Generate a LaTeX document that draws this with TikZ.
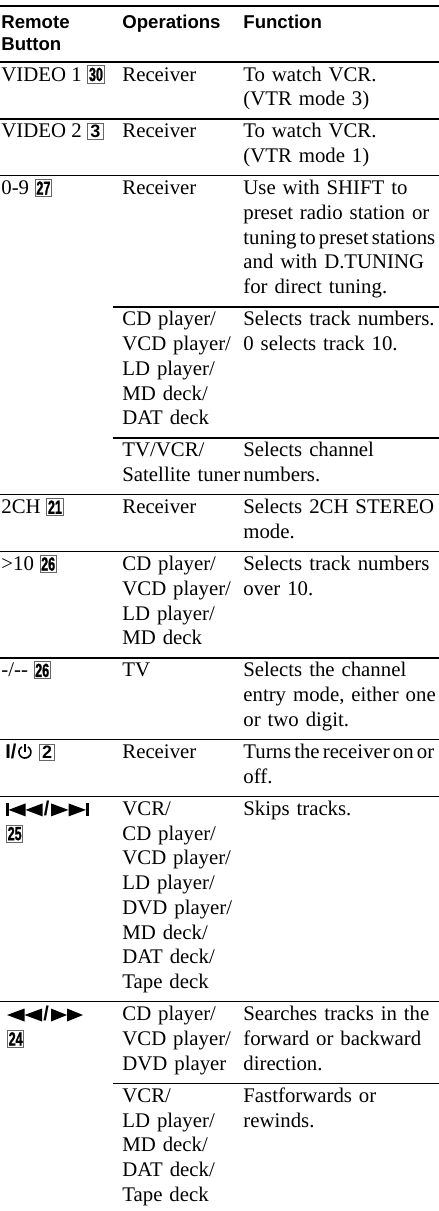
\documentclass[tikz,border=0pt]{standalone}
\usepackage{fontspec}
\usetikzlibrary{positioning}
\setmainfont{Liberation Serif}
\setsansfont{Liberation Sans}
\newfontfamily\numfont[FakeStretch=0.66,FakeBold=1.2]{Liberation Sans}
\newcommand\tight{\spaceskip=0.15em\relax}

\begin{document}
\begin{tikzpicture}[
    x=0.5pt, y=-0.5pt,
    key/.style={
        anchor=base west,
        inner sep=0pt,
        font=\fontsize{10.4pt}{12.375pt}\selectfont
    },
    oper/.style={key, align=left, text width=60pt},
    func/.style={key, align=left, text width=100pt},
    head/.style={key, align=left, text width=58pt, font=\sffamily\bfseries\fontsize{9.3pt}{11pt}\selectfont},
    slash/.style={key, font=\sffamily\bfseries\fontsize{10pt}{11pt}\selectfont},
    numkey/.style={
        draw=black!60,
        line width=0.5pt,
        inner xsep=0.6pt,
        inner ysep=0.9pt,
        anchor=base west,
        font=\numfont\bfseries\fontsize{9.5pt}{9.5pt}\selectfont
    },
    widekey/.style={numkey, inner xsep=1.3pt, font=\sffamily\bfseries\fontsize{9pt}{9pt}\selectfont},
    rule/.style={line width=0.7pt},
    sym/.style={fill=black}
]
\useasboundingbox (0,0) rectangle (439,1211);

\draw[line width=1.2pt] (0,6) -- (439,6);

\node[head] (hbtn) at (1,28) {Remote\\Button};
\node[head] (hop) at (122,28) {Operations};
\node[head] (hfn) at (243,28) {Function};
\draw[rule] (0,62) -- (439,62);

\node[key] (v1) at (1,81) {VIDEO 1};
\node[right=2.6pt of v1.base east, numkey] (v1num) {30};
\node[oper] (v1op) at (122,81) {Receiver};
\node[func] (v1fn) at (243,81) {To watch VCR.\\(VTR mode 3)};
\draw[rule] (0,118.85) -- (439,118.85);

\node[key] (v2) at (1,137.85) {VIDEO 2};
\node[right=2.6pt of v2.base east, widekey] (v2num) {3};
\node[oper] (v2op) at (122,137.85) {Receiver};
\node[func] (v2fn) at (243,137.85) {To watch VCR.\\(VTR mode 1)};
\draw[rule] (0,175.7) -- (439,175.7);

\node[key] (num) at (1,194.7) {0-9};
\node[right=2.6pt of num.base east, numkey] (numnum) {27};
\node[oper] (numop) at (122,194.7) {Receiver};
\node[func] (numfn) at (243,194.7) {Use with SHIFT to\\preset radio station or\\{\tight tuning to preset stations}\\and with D.TUNING\\for direct tuning.};
\draw[rule] (113,306.8) -- (439,306.8);

\node[oper] (numop2) at (122,325.8) {CD player/\\VCD player/\\LD player/\\MD deck/\\DAT deck};
\node[func] (numfn2) at (243,325.8) {Selects track numbers.\\0 selects track 10.};
\draw[rule] (113,437.9) -- (439,437.9);

\node[oper] (numop3) at (122,456.9) {TV/VCR/\\Satellite tuner};
\node[func] (numfn3) at (243,456.9) {Selects channel\\numbers.};
\draw[rule] (0,494.75) -- (439,494.75);

\node[key] (twoch) at (1,513.75) {2CH};
\node[right=2.6pt of twoch.base east, numkey] (twochnum) {21};
\node[oper] (twochop) at (122,513.75) {Receiver};
\node[func] (twochfn) at (243,513.75) {Selects 2CH STEREO\\mode.};
\draw[rule] (0,551.6) -- (439,551.6);

\node[key] (ten) at (1,570.6) {>10};
\node[right=2.6pt of ten.base east, numkey] (tennum) {26};
\node[oper] (tenop) at (122,570.6) {CD player/\\VCD player/\\LD player/\\MD deck};
\node[func] (tenfn) at (243,570.6) {Selects track numbers\\over 10.};
\draw[rule] (0,657.95) -- (439,657.95);

\node[key] (digit) at (1,676.95) {-/-{}-};
\node[right=2.6pt of digit.base east, numkey] (digitnum) {26};
\node[oper] (digitop) at (122,676.95) {TV};
\node[func] (digitfn) at (243,676.95) {Selects the channel\\entry mode, either one\\or two digit.};
\draw[rule] (0,739.55) -- (439,739.55);

\node[slash] (pwr) at (5,758.55) {I/};
\draw[line width=0.8pt] ([shift={(8,-6.5)}]pwr.base east) ++(-60:6) arc[start angle=-60, end angle=240, radius=6];
\draw[line width=0.8pt] ([shift={(8,-6.5)}]pwr.base east) -- ++(0,-8.5);
\node[right=11pt of pwr.base east, widekey] (pwrnum) {2};
\node[oper] (pwrop) at (122,758.55) {Receiver};
\node[func] (pwrfn) at (243,758.55) {{\tight Turns the receiver on or}\\off.};
\draw[rule] (0,796.4) -- (439,796.4);

\fill[sym] (6,816.4) rectangle (8.5,803.4);
\fill[sym] (8.5,809.9) -- (25.5,803.4) -- (25.5,816.4) -- cycle;
\fill[sym] (25.5,809.9) -- (42.5,803.4) -- (42.5,816.4) -- cycle;
\node[slash] (skipsl) at (43.5,815.4) {/};
\fill[sym] (51,803.4) -- (68.5,809.9) -- (51,816.4) -- cycle;
\fill[sym] (68.5,803.4) -- (86,809.9) -- (68.5,816.4) -- cycle;
\fill[sym] (86,803.4) rectangle (88.5,816.4);
\node[numkey] (skipnum) at (6,840.15) {25};
\node[oper] (skipop) at (122,815.4) {VCR/\\CD player/\\VCD player/\\LD player/\\DVD player/\\MD deck/\\DAT deck/\\Tape deck};
\node[func] (skipfn) at (243,815.4) {Skips tracks.};
\draw[rule] (0,1001.75) -- (439,1001.75);

\fill[sym] (7,1015) -- (24.5,1008.5) -- (24.5,1021.5) -- cycle;
\fill[sym] (24.5,1015) -- (42,1008.5) -- (42,1021.5) -- cycle;
\node[slash] (srchsl) at (43,1020.75) {/};
\fill[sym] (51,1008.5) -- (67,1015) -- (51,1021.5) -- cycle;
\fill[sym] (67,1008.5) -- (83,1015) -- (67,1021.5) -- cycle;
\node[numkey] (srchnum) at (7,1045.5) {24};
\node[oper] (srchop) at (122,1020.75) {CD player/\\VCD player/\\DVD player};
\node[func] (srchfn) at (243,1020.75) {Searches tracks in the\\forward or backward\\direction.};
\draw[rule] (113,1083.35) -- (439,1083.35);

\node[oper] (ffop) at (122,1102.35) {VCR/\\LD player/\\MD deck/\\DAT deck/\\Tape deck};
\node[func] (fffn) at (243,1102.35) {Fastforwards or\\rewinds.};
\end{tikzpicture}
\end{document}
